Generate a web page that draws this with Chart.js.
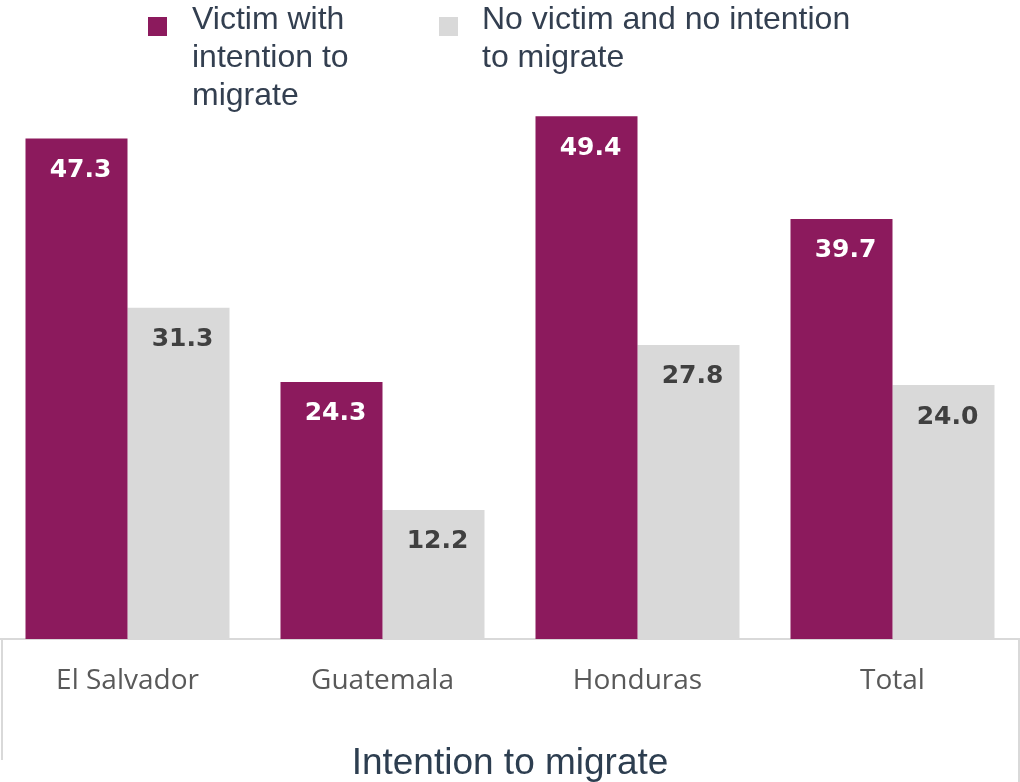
<!DOCTYPE html>
<html>
<head>
<meta charset="utf-8">
<script src="https://cdn.jsdelivr.net/npm/chart.js@4/dist/chart.umd.min.js"></script>
<style>
  body { margin: 0; background: #fff; }
  #wrap { position: relative; width: 1020px; height: 782px; }
  #legend { position: absolute; top: 0; left: 0; width: 1020px; height: 110px;
    font-family: "Liberation Sans", Arial, sans-serif; font-size: 32px; line-height: 38px; color: #333f50; }
  .box { position: absolute; top: 17px; width: 19px; height: 19px; }
  .lbl { position: absolute; top: -1px; }
</style>
</head>
<body>
<div id="wrap">
  <canvas id="chart" width="1020" height="782"></canvas>
  <div id="legend"></div>
</div>
<script>
const categories = ["El Salvador", "Guatemala", "Honduras", "Total"];
const seriesNames = [["Victim with", "intention to", "migrate"], ["No victim and no intention", "to migrate"]];
const victimMigrate = [47.3, 24.3, 49.4, 39.7];
const noVictimNoMigrate = [31.3, 12.2, 27.8, 24.0];
const colors = ["#8c1a5d", "#d9d9d9"];
const labelColors = ["#ffffff", "#404040"];

// html legend with wrapped labels
const legend = document.getElementById("legend");
const legendX = [[148, 192], [439, 482]];
seriesNames.forEach((lines, i) => {
  legend.innerHTML +=
    `<div class="box" style="left:${legendX[i][0]}px;background:${colors[i]}"></div>` +
    `<div class="lbl" style="left:${legendX[i][1]}px">${lines.join("<br>")}</div>`;
});

const valueLabels = {
  id: "valueLabels",
  afterDatasetsDraw(chart) {
    const ctx = chart.ctx;
    ctx.save();
    ctx.font = "bold 25px 'DejaVu Sans'";
    ctx.textAlign = "center";
    ctx.textBaseline = "middle";
    chart.data.datasets.forEach((ds, i) => {
      chart.getDatasetMeta(i).data.forEach((bar, j) => {
        ctx.fillStyle = labelColors[i];
        ctx.fillText(ds.data[j].toFixed(1), bar.x + 4, bar.y + 32);
      });
    });
    ctx.restore();
  }
};

const frame = {
  id: "frame",
  afterDraw(chart) {
    const ctx = chart.ctx;
    const b = chart.chartArea.bottom;
    ctx.save();
    ctx.strokeStyle = "#d9d9d9";
    ctx.lineWidth = 2;
    ctx.beginPath();
    ctx.moveTo(2, b);
    ctx.lineTo(2, chart.height - 22);
    ctx.moveTo(chart.width - 1, b);
    ctx.lineTo(chart.width - 1, chart.height);
    ctx.stroke();
    ctx.restore();
  }
};

new Chart(document.getElementById("chart").getContext("2d"), {
  type: "bar",
  data: {
    labels: categories,
    datasets: [
      { label: seriesNames[0].join(" "), data: victimMigrate, backgroundColor: colors[0] },
      { label: seriesNames[1].join(" "), data: noVictimNoMigrate, backgroundColor: colors[1] }
    ]
  },
  options: {
    responsive: false,
    animation: false,
    layout: { padding: { top: 110, left: 0, right: 0, bottom: 0 } },
    datasets: { bar: { categoryPercentage: 0.8, barPercentage: 1.0 } },
    plugins: {
      legend: { display: false },
      tooltip: { enabled: false }
    },
    scales: {
      x: {
        grid: { display: false, drawTicks: false },
        border: { color: "#d9d9d9", width: 2 },
        ticks: { padding: 25, color: "#595959", font: { family: "'Open Sans'", size: 28 } },
        title: {
          display: true,
          text: "Intention to migrate",
          color: "#2d3e50",
          font: { family: "'Liberation Sans'", size: 37 },
          padding: { top: 19, bottom: -4 }
        }
      },
      y: { display: false, min: 0, max: 50 }
    }
  },
  plugins: [valueLabels, frame]
});
</script>
</body>
</html>
